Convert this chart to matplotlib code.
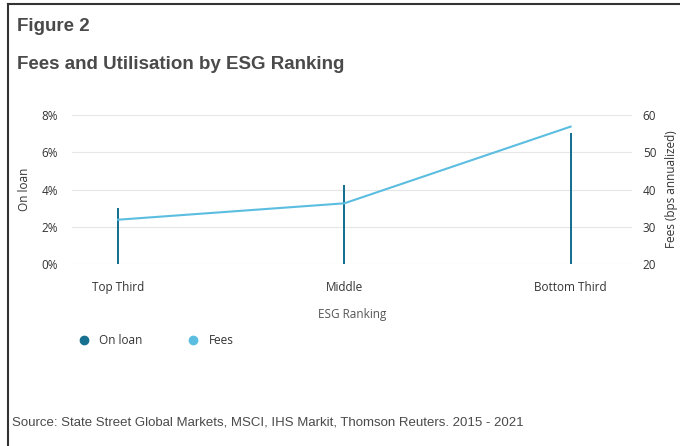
import matplotlib.pyplot as plt
from matplotlib.lines import Line2D

# ==================== 数据 ====================
categories = ['Top Third', 'Middle', 'Bottom Third']
on_loan = [3.0, 4.24, 7.05]      # %
fees = [31.9, 36.3, 56.9]        # bps annualized

loan_color = '#16708f'
fee_color = '#5bbde0'
txt_color = '#4a4a4a'

plt.rcParams['font.family'] = ['Open Sans', 'DejaVu Sans']

fig = plt.figure(figsize=(6.8, 4.46), dpi=100)
ax = fig.add_axes([0.106, 0.408, 0.823, 0.334])
ax2 = ax.twinx()

x = list(range(len(categories)))
ax.bar(x, on_loan, width=0.009, color=loan_color, zorder=3)
ax2.plot(x, fees, color=fee_color, lw=1.5, zorder=4)

ax.set_xlim(-0.203, 2.27)
ax.set_ylim(0, 8)
ax2.set_ylim(20, 60)
ax.set_yticks([0, 2, 4, 6, 8])
ax.set_yticklabels([f'{v}%' for v in [0, 2, 4, 6, 8]])
ax2.set_yticks([20, 30, 40, 50, 60])
ax.set_xticks(x)
ax.set_xticklabels(categories)

ax.grid(axis='y', color='#e6e6e6', lw=0.8, zorder=0)
for a in (ax, ax2):
    for s in a.spines.values():
        s.set_visible(False)
    a.tick_params(length=0, labelsize=8.5, colors='#333333')
ax.tick_params(axis='y', pad=10)
ax2.tick_params(axis='y', pad=8)
ax.tick_params(axis='x', pad=12)

ax.set_ylabel('On loan', fontsize=8.5, color='#333333', labelpad=8)
ax2.set_ylabel('Fees (bps annualized)', fontsize=8.5, color='#333333', labelpad=6)
ax.set_xlabel('ESG Ranking', fontsize=8.5, color='#555555', labelpad=10)

# 图例
handles = [Line2D([], [], marker='o', ls='none', color=loan_color, markersize=6),
           Line2D([], [], marker='o', ls='none', color=fee_color, markersize=6)]
fig.legend(handles, ['On loan', 'Fees'], loc='center left', bbox_to_anchor=(0.09, 0.237),
           ncol=2, frameon=False, fontsize=8.5, handletextpad=0.3, columnspacing=3.3,
           labelcolor='#333333')

# 标题与来源
fig.text(0.025, 0.94, 'Figure 2', fontsize=13.5, fontweight='bold', color=txt_color,
         family='Liberation Sans', va='center')
fig.text(0.025, 0.855, 'Fees and Utilisation by ESG Ranking', fontsize=13.5, fontweight='bold',
         color=txt_color, family='Liberation Sans', va='center')
fig.text(0.018, 0.052, 'Source: State Street Global Markets, MSCI, IHS Markit, Thomson Reuters. 2015 - 2021',
         fontsize=9.5, color=txt_color, family='Liberation Sans', va='center')

# 边框
fig.add_artist(Line2D([8/680, 1], [1 - 4/446, 1 - 4/446], color='#333333', lw=1.5))
fig.add_artist(Line2D([8/680, 8/680], [0, 1 - 4/446], color='#333333', lw=1.5))

fig.savefig('out.png', dpi=100)
